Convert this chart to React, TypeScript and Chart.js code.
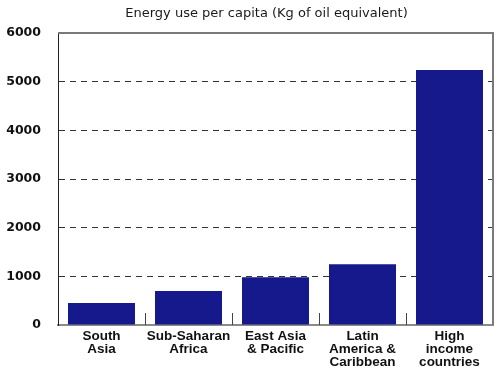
import React, { useEffect, useRef } from "react";
import { Chart, registerables } from "chart.js";

Chart.register(...registerables);

const TITLE = "Energy use per capita (Kg of oil equivalent)";
const categories: string[][] = [
  ["South", "Asia"],
  ["Sub-Saharan", "Africa"],
  ["East Asia", "& Pacific"],
  ["Latin", "America &", "Caribbean"],
  ["High", "income", "countries"],
];
const values: number[] = [450, 700, 980, 1250, 5240];
const Y_MIN = 0;
const Y_MAX = 6000;
const Y_STEP = 1000;

const framePlugin = {
  id: "frame",
  afterLayout(chart: any) {
    const t = chart.titleBlock;
    if (t) {
      t.left = 40;
      t.right = chart.chartArea.right;
    }
  },
  afterDatasetsDraw(chart: any) {
    const { ctx, chartArea: a, scales } = chart;
    const x = scales.x;
    ctx.save();
    ctx.strokeStyle = "#444";
    ctx.lineWidth = 1;
    const n = x.ticks.length;
    for (let i = 1; i < n; i++) {
      const px = Math.round((x.getPixelForTick(i - 1) + x.getPixelForTick(i)) / 2) + 0.5;
      ctx.beginPath();
      ctx.moveTo(px, a.bottom);
      ctx.lineTo(px, a.bottom - 12);
      ctx.stroke();
    }
    ctx.strokeStyle = "#7a7a7a";
    ctx.lineWidth = 2;
    ctx.beginPath();
    ctx.moveTo(a.left, a.top);
    ctx.lineTo(a.right, a.top);
    ctx.lineTo(a.right, a.bottom);
    ctx.stroke();
    ctx.restore();
  },
};

export default function App() {
  const ref = useRef<HTMLCanvasElement | null>(null);
  useEffect(() => {
    if (!ref.current) return;
    const chart = new Chart(ref.current, {
      type: "bar",
      data: {
        labels: categories,
        datasets: [
          {
            data: values,
            backgroundColor: "#15198c",
            borderWidth: 0,
            barPercentage: 0.77,
            categoryPercentage: 1,
          },
        ],
      },
      options: {
        responsive: false,
        animation: false,
        events: [],
        layout: { padding: { left: 0, right: 7, top: 0, bottom: 0 } },
        plugins: {
          legend: { display: false },
          tooltip: { enabled: false },
          title: {
            display: true,
            text: TITLE,
            color: "#1a1a1a",
            font: { family: "'DejaVu Sans', sans-serif", size: 13, weight: "normal", lineHeight: 1.2 },
            padding: { top: 5.5, bottom: 11.9 },
          },
        },
        scales: {
          x: {
            offset: true,
            grid: { display: false, drawTicks: false },
            border: { display: true, color: "#8a8a8a", width: 2 },
            ticks: {
              autoSkip: false,
              maxRotation: 0,
              minRotation: 0,
              padding: 5,
              color: "#111",
              font: { family: "'Liberation Sans', Arial, sans-serif", size: 13.5, weight: "bold", lineHeight: 0.95 },
            },
            afterFit(scale: any) {
              scale.height = 47;
            },
          },
          y: {
            min: Y_MIN,
            max: Y_MAX,
            grid: {
              drawTicks: false,
              color: (c: any) =>
                c.tick && (c.tick.value === Y_MIN || c.tick.value === Y_MAX) ? "rgba(0,0,0,0)" : "#333",
              lineWidth: 1,
            },
            border: { display: true, color: "#222", width: 1, dash: [6, 5] },
            ticks: {
              stepSize: Y_STEP,
              padding: 17,
              color: "#111",
              font: { family: "'DejaVu Sans', sans-serif", size: 12.5, weight: "bold" },
              callback: (v: any) => String(v),
            },
            afterFit(scale: any) {
              scale.width = 58;
            },
          },
        },
      },
      plugins: [framePlugin],
    });
    return () => chart.destroy();
  }, []);
  return (
    <canvas
      ref={ref}
      width={500}
      height={372}
      style={{ position: "absolute", left: 0, top: 0, width: 500, height: 372 }}
    />
  );
}
